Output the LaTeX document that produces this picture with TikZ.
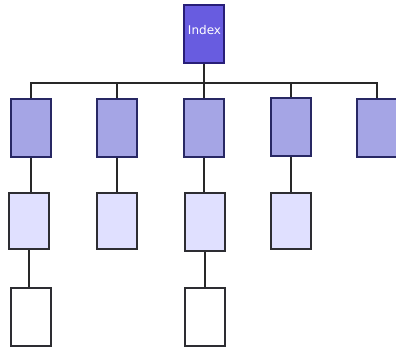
\documentclass[tikz,border=0pt]{standalone}
\usepackage{fontspec}
\setmainfont{DejaVu Sans}
\begin{document}
\begin{tikzpicture}[x=1pt,y=-1pt,
  conn/.style={draw={rgb,255:red,40;green,40;blue,40}, line width=2pt},
  boxbase/.style={rectangle, minimum width=40pt, minimum height=58pt, inner sep=0pt, line width=2pt},
  rootbox/.style={boxbase, draw={rgb,255:red,40;green,30;blue,120}, fill={rgb,255:red,104;green,92;blue,224}},
  lvlone/.style={boxbase, draw={rgb,255:red,40;green,40;blue,100}, fill={rgb,255:red,165;green,165;blue,229}},
  lvltwo/.style={boxbase, minimum height=56pt, draw={rgb,255:red,45;green,45;blue,50}, fill={rgb,255:red,224;green,224;blue,255}},
  lvlthree/.style={boxbase, draw={rgb,255:red,45;green,45;blue,50}, fill=white}
]
\useasboundingbox (0,0) rectangle (396,348);
\node[rootbox] (root) at (204,34) {};
\node[text=white, font=\fontsize{12}{13}\selectfont, inner sep=0pt] (rootlabel) at (204.5,30) {Index};
\coordinate (bus) at (204,83);

\node[lvlone] (a1) at (31,128) {};
\node[lvlone] (b1) at (117,128) {};
\node[lvlone] (c1) at (204,128) {};
\node[lvlone] (d1) at (291,127) {};
\node[lvlone] (e1) at (377,128) {};

\node[lvltwo] (a2) at (29,221) {};
\node[lvltwo] (b2) at (117,221) {};
\node[lvltwo, minimum height=58pt] (c2) at (205,222) {};
\node[lvltwo] (d2) at (291,221) {};

\node[lvlthree] (a3) at (31,317) {};
\node[lvlthree] (c3) at (205,317) {};

\coordinate (la) at (a1.north |- bus);
\coordinate (le) at (e1.north |- bus);
\draw[conn] (root.south) -- (bus);
\draw[conn] (a1.north) -- (la) -- (le) -- (e1.north);
\draw[conn] (b1.north) -- (b1.north |- bus);
\draw[conn] (c1.north) -- (c1.north |- bus);
\draw[conn] (d1.north) -- (d1.north |- bus);

\draw[conn] (a1.south) -- (a1.south |- a2.north);
\draw[conn] (b1.south) -- (b1.south |- b2.north);
\draw[conn] (c1.south) -- (c1.south |- c2.north);
\draw[conn] (d1.south) -- (d1.south |- d2.north);

\draw[conn] (a2.south) -- (a2.south |- a3.north);
\draw[conn] (c2.south) -- (c2.south |- c3.north);
\end{tikzpicture}
\end{document}
